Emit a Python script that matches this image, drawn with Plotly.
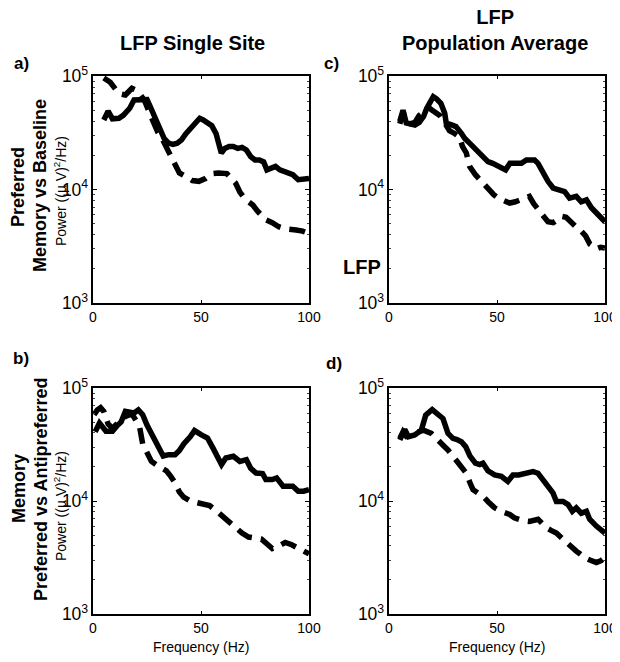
import plotly.graph_objects as go

# the page body has an 8px margin, so the figure is sized to fill the rest of the 620x662 window
OFF = 8
W, H = 620 - OFF, 662 - OFF

# ---------------- data (frequency in Hz, power in (uV)^2/Hz) ----------------
a_solid_f = [5, 7, 9, 12, 14, 17, 19, 21, 23, 25, 26.5, 28.5, 31, 33, 35, 37, 39, 41, 43, 45, 47, 49.4, 51, 53, 55, 57, 59.4, 61, 63, 65, 67, 69, 71, 73, 75, 77, 79, 80.5, 82.5, 84.5, 86.5, 88.5, 90.5, 92.5, 95, 97.5, 100]
a_solid_p = [41000, 49000, 42000, 42400, 45000, 52000, 61500, 62000, 61500, 62000, 53700, 43800, 33500, 28000, 25600, 25000, 25600, 27400, 31000, 34000, 38000, 42400, 41000, 39000, 36500, 31000, 20900, 23000, 23900, 23900, 23000, 23500, 22300, 19500, 18200, 18200, 17500, 14900, 15400, 16000, 14900, 14500, 13900, 13500, 12200, 12200, 12500]
a_dash_f = [5, 8, 12, 15, 18, 20, 22, 24, 26, 28, 30, 32, 35, 38, 40, 43, 46, 49, 52, 55, 58, 62, 64, 66, 68, 70, 72, 74, 76, 78, 80, 83, 86, 89, 91, 94, 97, 100]
a_dash_p = [96000, 88000, 70000, 68000, 78000, 75000, 68000, 60000, 48000, 38000, 32000, 28000, 22000, 17000, 14000, 13000, 12000, 11800, 12500, 13800, 14000, 13800, 12500, 11400, 9500, 8400, 7800, 7300, 6500, 5800, 5400, 5100, 4700, 4500, 4500, 4400, 4300, 4100]

b_solid_f = [1, 3, 6, 9, 11, 13, 15, 17, 19, 21, 23, 25, 27, 29, 31, 32.5, 35, 38, 40, 42, 45, 47, 50, 53, 55.5, 58, 59.5, 61.5, 65, 68, 71, 73, 75.5, 78.5, 80, 83, 85, 88, 90, 92.5, 95, 97.5, 100]
b_solid_p = [41000, 49000, 41500, 41500, 46000, 50000, 62000, 61000, 60000, 64000, 58000, 47000, 40000, 33800, 28500, 25000, 25700, 25700, 28000, 32000, 37000, 42000, 38700, 36100, 29500, 23000, 21000, 24000, 24900, 22400, 23200, 19500, 17700, 17500, 15500, 15500, 16000, 13500, 13500, 13500, 12200, 12200, 12600]
b_dash_f = [0.5, 2, 3.5, 5, 7, 9, 12, 15, 18, 20, 21.5, 23, 25, 27, 30, 32, 34, 36, 38, 40, 42, 45, 48, 51, 54, 57, 60, 63, 66, 69, 72, 75, 78, 81, 83, 86, 89, 92, 95, 98, 100]
b_dash_p = [58000, 64000, 67000, 62000, 48000, 44000, 50000, 56000, 59000, 52000, 46000, 32000, 26000, 22500, 20500, 19600, 18500, 16500, 14500, 12000, 10800, 10000, 9600, 9300, 9100, 8200, 7300, 6500, 5900, 5200, 4800, 4700, 4600, 4100, 3800, 4000, 4300, 4100, 3800, 3600, 3400]

c_solid_f = [5, 6.5, 8, 10, 12, 14, 16, 17.5, 19.5, 20.5, 22, 24, 25.8, 26.5, 29, 31, 33.5, 35, 37.3, 39.7, 42, 44.3, 45.8, 48, 51, 54, 56, 59, 61.3, 63.6, 67.4, 69, 71.3, 73.6, 76, 79, 81.3, 83.6, 86.7, 89, 91.4, 93.7, 96.8, 100]
c_solid_p = [40000, 50000, 38500, 37500, 37000, 39000, 44000, 52000, 63600, 65800, 63000, 57500, 47000, 38400, 37100, 35800, 31300, 28300, 25600, 23100, 20900, 19500, 17600, 17000, 15900, 14900, 17000, 17000, 17000, 18200, 18200, 17000, 13900, 11800, 10300, 9900, 9600, 8400, 8700, 7800, 8100, 6900, 6000, 5200]
c_dash_f = [5, 6.5, 8, 10, 12, 14, 16, 18.8, 20, 22, 23.5, 26, 28, 30.5, 32.7, 34, 35.8, 37.3, 40, 43.5, 46, 48.5, 50.5, 53, 55.9, 58.5, 61.3, 65, 67, 69, 71, 73.6, 76, 78, 80, 82, 85, 87, 89, 91, 93, 96, 98, 100]
c_dash_p = [38000, 48000, 40000, 38000, 39000, 45000, 48000, 52000, 50000, 47000, 45000, 38000, 33000, 31000, 29000, 24000, 21000, 16000, 13500, 11400, 10000, 9000, 8400, 8000, 7600, 7800, 8100, 8700, 7500, 6600, 6000, 5200, 5100, 5400, 5800, 5700, 4900, 4600, 4300, 3900, 3300, 3000, 3100, 3050]

d_solid_f = [5, 7.3, 9, 11.9, 15, 17, 20, 22, 25, 27.3, 29.6, 31.5, 33.5, 35.5, 37.5, 40, 42, 43.5, 45.8, 48.9, 52, 55, 57.4, 60, 62.8, 66.7, 69, 72.8, 75.9, 77.5, 80.6, 82.9, 84.9, 86.7, 89, 91.4, 92.9, 96, 100]
d_solid_p = [34700, 43000, 37100, 38400, 42400, 57500, 64500, 60000, 53700, 39700, 35800, 35000, 33500, 30300, 25000, 21600, 21000, 21600, 18500, 17000, 16500, 14900, 17000, 17000, 17600, 18200, 17600, 13900, 11800, 9900, 9900, 9300, 8100, 8700, 7800, 8100, 6900, 6000, 5200]
d_dash_f = [5, 6.5, 8, 10, 13, 16, 19.6, 21.5, 23.5, 25.5, 27.3, 30, 32.7, 34.3, 35.8, 37.5, 38.9, 41, 43.5, 46, 48.9, 52, 55.9, 58, 59.7, 62, 65, 67, 69, 71, 72.8, 75, 77.5, 80, 82, 84.5, 86.7, 88.5, 90.6, 93, 96, 98, 100]
d_dash_p = [35800, 41000, 37500, 38400, 40000, 42400, 39700, 36000, 33500, 30500, 28300, 24500, 21600, 19500, 17600, 14500, 12600, 11800, 11000, 9800, 8700, 8100, 7600, 7100, 6900, 6700, 6600, 6800, 6900, 6300, 5800, 5500, 5200, 4700, 4300, 3900, 3600, 3400, 3150, 3000, 2850, 2950, 3150]

x_ticks = [0, 50, 100]

FONT = "Liberation Sans, Arial, Helvetica, sans-serif"

# panel boxes in window pixels: (left, right, top, bottom)
panels = {
    "a": (93, 309, 76, 303),
    "b": (93, 309, 388, 614),
    "c": (389, 605, 76, 303),
    "d": (389, 605, 388, 614),
}

def px(x):
    return (x - OFF) / W

def py(y):
    return 1 - (y - OFF) / H

fig = go.Figure()

series = [
    ("a", "x", "y", a_solid_f, a_solid_p, a_dash_f, a_dash_p),
    ("b", "x2", "y2", b_solid_f, b_solid_p, b_dash_f, b_dash_p),
    ("c", "x3", "y3", c_solid_f, c_solid_p, c_dash_f, c_dash_p),
    ("d", "x4", "y4", d_solid_f, d_solid_p, d_dash_f, d_dash_p),
]

for key, xa, ya, sf, sp, df, dp in series:
    fig.add_trace(go.Scatter(x=df, y=dp, xaxis=xa, yaxis=ya, mode="lines",
                             line=dict(color="black", width=5.5, dash="16px,9px"),
                             showlegend=False, hoverinfo="skip"))
    fig.add_trace(go.Scatter(x=sf, y=sp, xaxis=xa, yaxis=ya, mode="lines",
                             line=dict(color="black", width=5.5),
                             showlegend=False, hoverinfo="skip"))

layout = dict(width=W, height=H, autosize=False, margin=dict(l=0, r=0, t=0, b=0, pad=0, autoexpand=False),
              paper_bgcolor="white", plot_bgcolor="white", showlegend=False,
              font=dict(family=FONT, color="black", size=14))

names = {"a": ("xaxis", "yaxis", "x", "y"), "b": ("xaxis2", "yaxis2", "x2", "y2"),
         "c": ("xaxis3", "yaxis3", "x3", "y3"), "d": ("xaxis4", "yaxis4", "x4", "y4")}

for key, (l, r, t, b) in panels.items():
    xn, yn, xid, yid = names[key]
    layout[xn] = dict(domain=[px(l), px(r)], anchor=yid, range=[0, 100], automargin=False,
                      tickmode="array", tickvals=x_ticks,
                      ticks="inside", ticklen=3, tickwidth=1, tickcolor="black",
                      showline=True, linewidth=2, linecolor="black", mirror="ticks",
                      showgrid=False, zeroline=False,
                      tickfont=dict(size=14, family=FONT, color="black"))
    layout[yn] = dict(domain=[py(b), py(t)], anchor=xid, type="log", range=[3, 5], automargin=False,
                      tickmode="linear", tick0=0, dtick=1, exponentformat="power",
                      ticks="inside", ticklen=4, tickwidth=1, tickcolor="black",
                      minor=dict(ticks="inside", ticklen=2, tickwidth=1, tickcolor="#444",
                                 dtick="D1", showgrid=False),
                      showline=True, linewidth=2, linecolor="black", mirror="ticks",
                      showgrid=False, zeroline=False,
                      tickfont=dict(size=14, family=FONT, color="black"))

fig.update_layout(**layout)

def ann(text, x, y, size, bold=False, angle=0, xanchor="center", yanchor="middle"):
    if bold:
        text = "<b>" + text + "</b>"
    fig.add_annotation(text=text, x=px(x), y=py(y), xref="paper", yref="paper",
                       showarrow=False, textangle=angle, xanchor=xanchor, yanchor=yanchor,
                       font=dict(family=FONT, size=size, color="black"))

# column titles
ann("LFP Single Site", 192, 43, 20, bold=True)
ann("LFP<br>Population Average", 495, 30, 20, bold=True)

# panel letters
ann("a)", 21, 64, 17, bold=True)
ann("b)", 21, 358, 17, bold=True)
ann("c)", 331, 63, 17, bold=True)
ann("d)", 334, 363, 17, bold=True)

# row labels
ann("Preferred", 18, 187, 18, bold=True, angle=-90)
ann("Memory vs Baseline", 40, 186, 18, bold=True, angle=-90)
ann("Power ((\u00b5 V)<sup>2</sup>/Hz)", 60, 191, 14, angle=-90)
ann("Memory", 19, 489, 18, bold=True, angle=-90)
ann("Preferred vs Antipreferred", 41, 490, 18, bold=True, angle=-90)
ann("Power ((\u00b5 V)<sup>2</sup>/Hz)", 60, 506, 14, angle=-90)

# stray LFP label in panel c
ann("LFP", 362, 267, 20, bold=True)

# x-axis titles
ann("Frequency (Hz)", 201, 647, 14)
ann("Frequency (Hz)", 497, 647, 14)

fig.write_html("out.html")
